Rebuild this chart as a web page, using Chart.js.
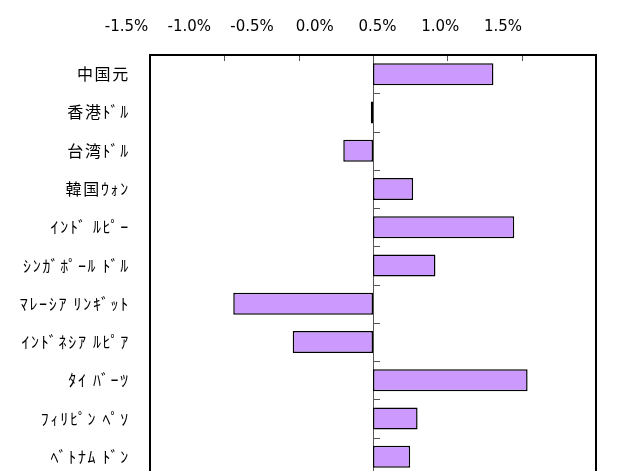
<!DOCTYPE html>
<html>
<head>
<meta charset="utf-8">
<script src="https://cdn.jsdelivr.net/npm/chart.js@4.4.1/dist/chart.umd.min.js"></script>
<style>
  html, body { margin: 0; padding: 0; background: #fff; overflow: hidden; }
  #wrap { position: relative; width: 619px; height: 480px; }
</style>
</head>
<body>
<div id="wrap"><canvas id="chart"></canvas></div>
<script>
const currencies = [
  '中国元', '香港ﾄﾞﾙ', '台湾ﾄﾞﾙ', '韓国ｳｫﾝ', 'ｲﾝﾄﾞ ﾙﾋﾟｰ', 'ｼﾝｶﾞﾎﾟｰﾙ ﾄﾞﾙ',
  'ﾏﾚｰｼｱ ﾘﾝｷﾞｯﾄ', 'ｲﾝﾄﾞﾈｼｱ ﾙﾋﾟｱ', 'ﾀｲ ﾊﾞｰﾂ', 'ﾌｨﾘﾋﾟﾝ ﾍﾟｿ', 'ﾍﾞﾄﾅﾑ ﾄﾞﾝ'
];
// change vs. yen, percent
const changes = [0.81, -0.015, -0.20, 0.27, 0.95, 0.42, -0.94, -0.54, 1.04, 0.30, 0.25];
const tickValues = [-1.5, -1.0, -0.5, 0.0, 0.5, 1.0, 1.5];

const fmtPct = v => v.toFixed(1) + '%';

// zero line, small ticks and the plot frame
const frame = {
  id: 'frame',
  beforeDatasetsDraw(chart) {
    const { ctx, chartArea: a, scales: { x, y } } = chart;
    const x0 = x.getPixelForValue(0);
    ctx.save();
    ctx.strokeStyle = '#555';
    ctx.lineWidth = 1;
    ctx.beginPath();
    ctx.moveTo(Math.round(x0) + 0.5, a.top);
    ctx.lineTo(Math.round(x0) + 0.5, a.bottom);
    for (let i = 1; i < currencies.length; i++) {
      const yy = Math.round((y.getPixelForValue(i - 1) + y.getPixelForValue(i)) / 2) + 0.5;
      ctx.moveTo(x0, yy);
      ctx.lineTo(x0 + 7, yy);
    }
    tickValues.slice(1, -1).forEach(v => {
      const xx = Math.round(x.getPixelForValue(v)) + 0.5;
      ctx.moveTo(xx, a.top);
      ctx.lineTo(xx, a.top + 6);
    });
    ctx.stroke();
    ctx.restore();
  },
  afterDatasetsDraw(chart) {
    const { ctx, chartArea: a } = chart;
    ctx.save();
    ctx.strokeStyle = '#000';
    ctx.lineWidth = 2;
    ctx.strokeRect(a.left, a.top, a.right - a.left, a.bottom - a.top);
    ctx.restore();
  }
};

new Chart(document.getElementById('chart'), {
  type: 'bar',
  data: {
    labels: currencies,
    datasets: [{
      data: changes,
      xAxisID: 'x',
      backgroundColor: '#CC99FF',
      borderColor: '#000',
      borderWidth: 1.5,
      borderSkipped: false,
      barPercentage: 0.575,
      categoryPercentage: 1.0
    }]
  },
  options: {
    indexAxis: 'y',
    responsive: true,
    maintainAspectRatio: false,
    animation: false,
    layout: { padding: { top: 0, left: 0, right: 23, bottom: 4 } },
    plugins: {
      legend: { display: false },
      tooltip: { enabled: false }
    },
    scales: {
      x: {
        display: false,
        min: -1.5,
        max: 1.5
      },
      // label-only axis on top; labels sit a little narrower than the plot ticks
      xl: {
        type: 'linear',
        position: 'top',
        min: -1.5,
        max: 2.054,
        afterBuildTicks: scale => {
          scale.ticks = tickValues.concat([2.0]).map(v => ({ value: v }));
        },
        afterFit: scale => { scale.height = 55; },
        grid: { display: false, drawTicks: false },
        border: { display: false },
        ticks: {
          autoSkip: false,
          maxRotation: 0,
          labelOffset: -23.5,
          padding: 19,
          color: '#000',
          font: { family: 'DejaVu Sans', size: 15 },
          callback: v => (v > 1.5 ? '' : fmtPct(v))
        }
      },
      y: {
        position: 'left',
        afterFit: scale => {
          scale.width = 150;
          scale.paddingTop = 0;
          scale.paddingBottom = 0;
          // half-width kana in the original are spaced out a bit
          if (!scale._spaced) {
            const draw = scale.draw;
            scale.draw = function (area) {
              this.ctx.save();
              this.ctx.letterSpacing = '1.7px';
              draw.call(this, area);
              this.ctx.restore();
            };
            scale._spaced = true;
          }
        },
        grid: { display: false, drawTicks: false },
        border: { display: false },
        ticks: {
          padding: 20,
          color: '#000',
          font: { family: 'Noto Sans CJK JP', size: 16 }
        }
      }
    }
  },
  plugins: [frame]
});
</script>
</body>
</html>
